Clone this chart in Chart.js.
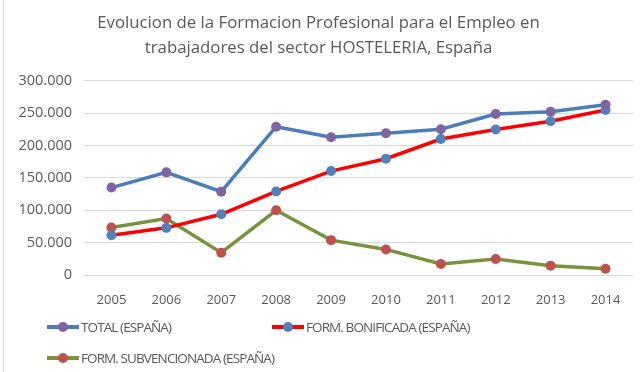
<!DOCTYPE html>
<html>
<head>
<meta charset="utf-8">
<script src="https://cdn.jsdelivr.net/npm/chart.js@4/dist/chart.umd.min.js"></script>
<style>
  html, body { margin: 0; padding: 0; background: #fff; }
  #wrap { position: relative; width: 641px; height: 372px; overflow: hidden; }
  #wrap::before { content: ''; position: absolute; left: 3px; top: 0; bottom: 0; border-left: 1px solid #d9d9d9; }
  .leg { position: absolute; font: 13.5px "Open Sans", sans-serif; color: #595959; display: flex; align-items: center; white-space: nowrap; letter-spacing: -0.9px; }
  .leg i { position: relative; display: inline-block; width: 32px; height: 4px; margin-right: 2px; }
  .leg i b { position: absolute; left: 11px; top: -3px; width: 10px; height: 10px; border-radius: 50%; }
</style>
</head>
<body>
<div id="wrap">
  <canvas id="c"></canvas>
  <div id="legend"></div>
</div>
<script>
const years = ['2005', '2006', '2007', '2008', '2009', '2010', '2011', '2012', '2013', '2014'];
const total = [135000, 158500, 128700, 229000, 212800, 219000, 225000, 248700, 252000, 263000];
const bonificada = [61500, 72800, 93800, 129000, 160500, 179500, 210000, 224600, 237400, 254900];
const subvencionada = [73300, 87200, 34400, 100000, 53800, 39500, 16900, 24600, 14400, 9700];
const titleLines = ['Evolucion de la Formacion Profesional para el Empleo en', 'trabajadores del sector HOSTELERIA, España'];

const series = [
  { label: 'TOTAL (ESPAÑA)', data: total, line: '#4a7ebb', dot: '#8064a2', x: 47, y: 327 },
  { label: 'FORM. BONIFICADA (ESPAÑA)', data: bonificada, line: '#ff0000', dot: '#4f81bd', x: 272, y: 327 },
  { label: 'FORM. SUBVENCIONADA (ESPAÑA)', data: subvencionada, line: '#77933c', dot: '#c0504d', x: 47, y: 358 },
];

const dotFmt = (v) => String(v).replace(/\B(?=(\d{3})+(?!\d))/g, '.');
const FONT = '"Open Sans", sans-serif';

new Chart(document.getElementById('c'), {
  type: 'line',
  data: {
    labels: years,
    datasets: series.map(s => ({
      label: s.label, data: s.data,
      borderColor: s.line, borderWidth: 3.5, tension: 0,
      pointRadius: 5, pointHoverRadius: 5, pointBorderWidth: 0,
      pointBackgroundColor: s.dot,
    })),
  },
  options: {
    responsive: true, maintainAspectRatio: false, animation: false,
    layout: { padding: { left: 4, right: 8, top: 11, bottom: 62 } },
    plugins: {
      legend: { display: false },
      tooltip: { enabled: false },
      title: {
        display: true, text: titleLines, color: '#595959',
        font: { family: FONT, size: 16.8, weight: 'normal', lineHeight: 1.48 },
        padding: { top: 0, bottom: 20 },
      },
    },
    scales: {
      y: {
        min: 0, max: 300000,
        ticks: { stepSize: 50000, color: '#595959', font: { family: FONT, size: 14.5 }, padding: 12, callback: dotFmt },
        grid: { color: '#d9d9d9', drawTicks: false },
        border: { display: false },
        afterFit: s => { s.width = 80; },
      },
      x: {
        offset: true,
        ticks: { color: '#595959', font: { family: FONT, size: 13 }, padding: 9 },
        grid: { display: false },
        border: { display: false },
        afterFit: s => { s.height = 35; },
      },
    },
  },
});

document.getElementById('legend').innerHTML = series.map(s =>
  `<div class="leg" style="left:${s.x}px;top:${s.y - 10}px;height:20px">
    <i style="background:${s.line}"><b style="background:${s.dot}"></b></i>${s.label}
  </div>`).join('');
</script>
</body>
</html>
